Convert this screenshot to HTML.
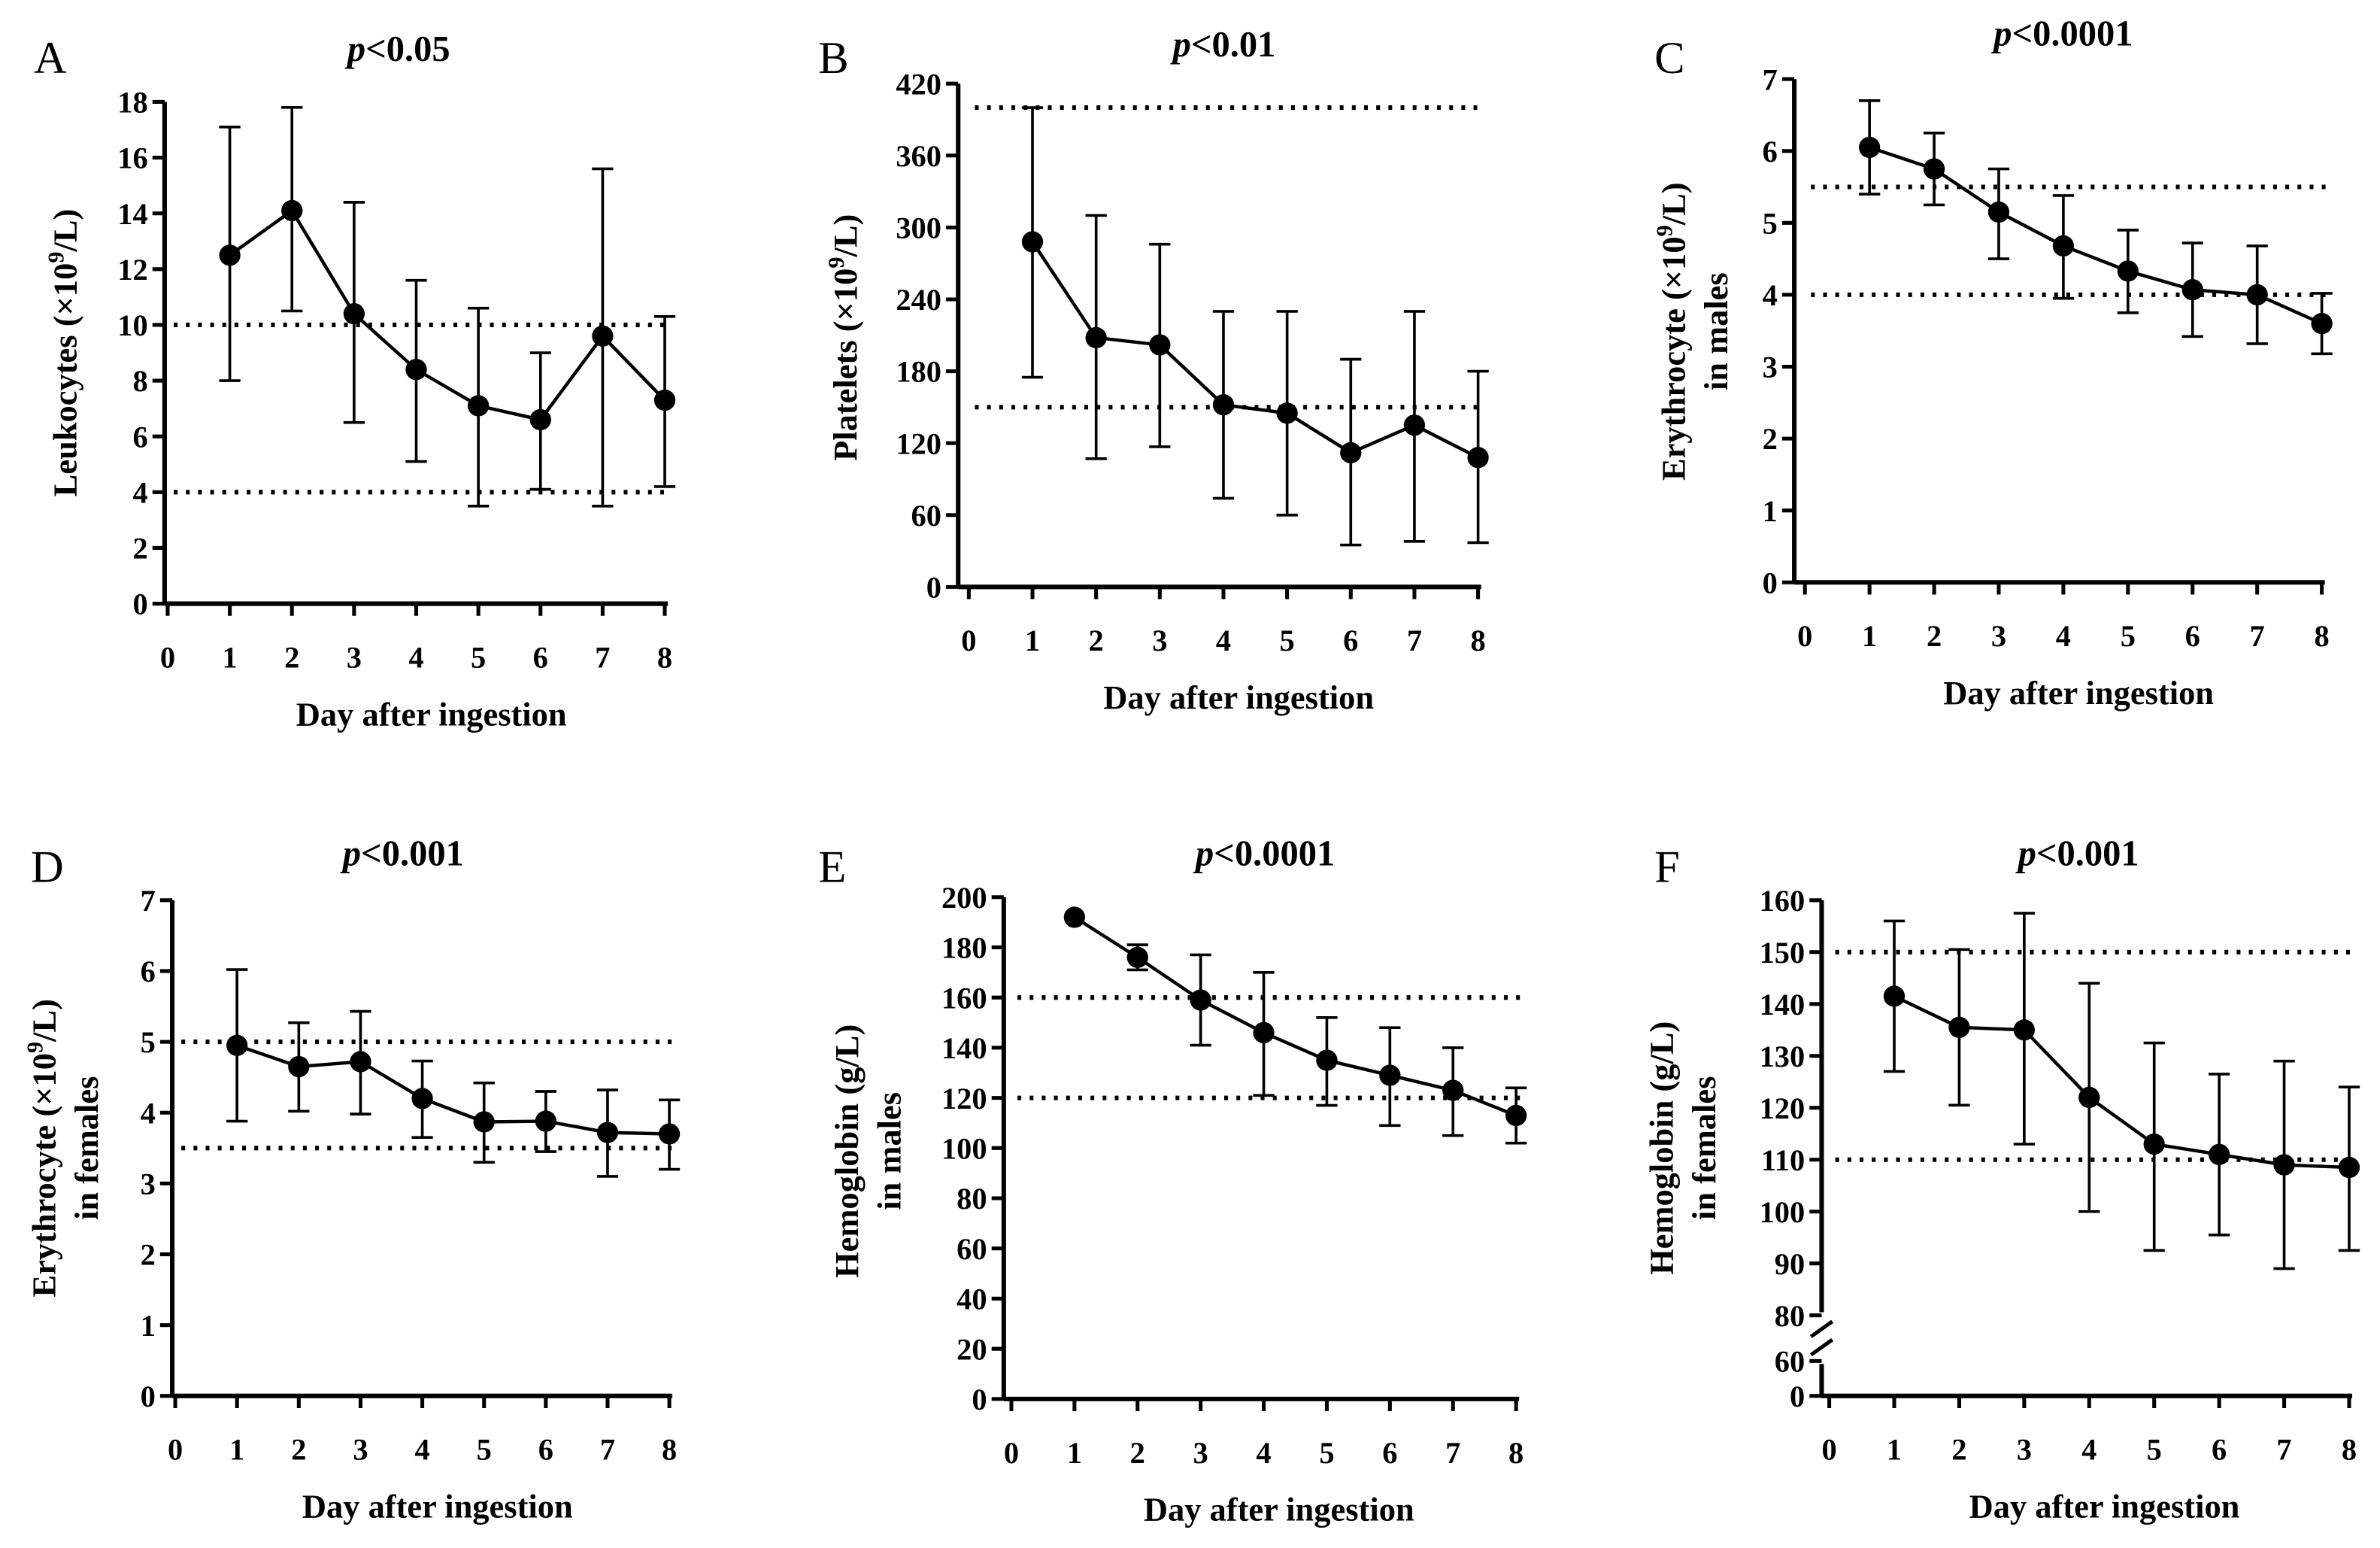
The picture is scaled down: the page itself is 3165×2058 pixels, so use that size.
<!DOCTYPE html>
<html><head><meta charset="utf-8">
<style>
html,body{margin:0;padding:0;background:#fff;}
svg{display:block;}
text{font-family:"Liberation Serif",serif;font-weight:bold;fill:#000;}
text.letter{font-weight:normal;}
</style></head>
<body>
<svg id="fig" width="3165" height="2058" viewBox="0 0 1565 1018" xmlns="http://www.w3.org/2000/svg"></svg>
<script>
// ---- data arrays ----
const days = [1,2,3,4,5,6,7,8];
const xTicks = [0,1,2,3,4,5,6,7,8];

const aMean = [12.5,14.1,10.4,8.4,7.1,6.6,9.6,7.3];
const aLow  = [8.0,10.5,6.5,5.1,3.5,4.1,3.5,4.2];
const aHigh = [17.1,17.8,14.4,11.6,10.6,9.0,15.6,10.3];
const aRef  = [10,4];
const aTicks = [0,2,4,6,8,10,12,14,16,18];

const bMean = [288,208,202,152,145,112,135,108];
const bLow  = [175,107,117,74,60,35,38,37];
const bHigh = [400,310,286,230,230,190,230,180];
const bRef  = [400,150];
const bTicks = [0,60,120,180,240,300,360,420];

const cMean = [6.05,5.75,5.15,4.68,4.33,4.07,4.0,3.6];
const cLow  = [5.4,5.25,4.5,3.95,3.75,3.42,3.32,3.18];
const cHigh = [6.7,6.25,5.75,5.38,4.9,4.72,4.68,4.02];
const cRef  = [5.5,4.0];
const cTicks = [0,1,2,3,4,5,6,7];

const dMean = [4.95,4.65,4.72,4.2,3.87,3.88,3.72,3.7];
const dLow  = [3.88,4.02,3.98,3.65,3.3,3.45,3.1,3.2];
const dHigh = [6.02,5.27,5.43,4.73,4.42,4.3,4.32,4.18];
const dRef  = [5.0,3.5];
const dTicks = [0,1,2,3,4,5,6,7];

const eMean = [192,176,159,146,135,129,123,113];
const eLow  = [192,171,141,121,117,109,105,102];
const eHigh = [192,181,177,170,152,148,140,124];
const eRef  = [160,120];
const eTicks = [0,20,40,60,80,100,120,140,160,180,200];

const fMean = [141.5,135.5,135,122,113,111,109,108.5];
const fLow  = [127,120.5,113,100,92.5,95.5,89,92.5];
const fHigh = [156,150.5,157.5,144,132.5,126.5,129,124];
const fRef  = [150,110];
const fTicks = [0,60,80,90,100,110,120,130,140,150,160];

const NS="http://www.w3.org/2000/svg";
const svg=document.getElementById('fig');
function mk(tag,attrs,parent){const e=document.createElementNS(NS,tag);for(const k in attrs)e.setAttribute(k,attrs[k]);(parent||svg).appendChild(e);return e;}

function panel(p){
  const g=mk('g',{});
  
  
  const X=v=>p.x0+(p.x8-p.x0)*v/8;
  const Y=p.yfn;
  const L=mk('text',{x:p.lx,y:p.ly,'font-size':30,'class':'letter',style:'font-weight:normal'},g);L.textContent=p.id;
  
  
  const T=mk('text',{x:p.tx,y:p.ty,'font-size':24,'text-anchor':'middle'},g);
  T.innerHTML='<tspan font-style="italic">p</tspan>'+p.title;
  
  
  const yTop=Y(p.ymax);
  if(p.broken){
    mk('path',{d:`M${p.ax} ${Y(0)} L${p.ax} ${Y(60)+2}`,stroke:'#000','stroke-width':3,fill:'none'},g);
    mk('path',{d:`M${p.ax} ${Y(80)-2} L${p.ax} ${yTop}`,stroke:'#000','stroke-width':3,fill:'none'},g);
    mk('path',{d:`M${p.ax-7} ${Y(60)-4} L${p.ax+7} ${Y(60)-14} M${p.ax-7} ${Y(80)+14} L${p.ax+7} ${Y(80)+4}`,stroke:'#000','stroke-width':2.5},g);
  } else {
    mk('line',{x1:p.ax,y1:Y(0),x2:p.ax,y2:yTop,stroke:'#000','stroke-width':3},g);
  }
  p.ticks.forEach(t=>{
    mk('line',{x1:p.ax-8,y1:Y(t),x2:p.ax,y2:Y(t),stroke:'#000','stroke-width':2.5},g);
    const tt=mk('text',{x:p.ax-11,y:Y(t)+7,'font-size':20,'text-anchor':'end'},g);tt.textContent=t;
    
    
  });
  mk('line',{x1:p.ax,y1:Y(0),x2:X(8)+2,y2:Y(0),stroke:'#000','stroke-width':3},g);
  xTicks.forEach(t=>{
    mk('line',{x1:X(t),y1:Y(0),x2:X(t),y2:Y(0)+8,stroke:'#000','stroke-width':2.5},g);
    const tt=mk('text',{x:X(t),y:Y(0)+42,'font-size':20,'text-anchor':'middle'},g);tt.textContent=t;
    
    
  });
  const xt=mk('text',{x:(X(0)+X(8))/2+10,y:Y(0)+80,'font-size':22,'text-anchor':'middle'},g);
  xt.textContent='Day after ingestion';
  
  
  p.ylab.forEach((s,i)=>{
    const yt=mk('text',{transform:`translate(${p.ylx+i*28},${p.lyc}) rotate(-90)`,'font-size':22,'text-anchor':'middle'},g);
    yt.innerHTML=s;
    
    
  });
  p.ref.forEach(r=>{
    const rl=mk('line',{x1:X(0)+4,y1:Y(r),x2:X(8)+3,y2:Y(r),stroke:'#000','stroke-width':3,'stroke-dasharray':'2.5 5.5'},g);
    
    
  });
  days.forEach((d,i)=>{
    const x=X(d);
    if(p.high[i]!==p.low[i]){
      const eb=mk('path',{d:`M${x} ${Y(p.low[i])} L${x} ${Y(p.high[i])} M${x-7} ${Y(p.low[i])} L${x+7} ${Y(p.low[i])} M${x-7} ${Y(p.high[i])} L${x+7} ${Y(p.high[i])}`,stroke:'#000','stroke-width':1.8,fill:'none'},g);
      
      
    }
  });
  const ln=mk('polyline',{points:days.map((d,i)=>X(d)+','+Y(p.mean[i])).join(' '),stroke:'#000','stroke-width':2.2,fill:'none'},g);
  
  
  days.forEach((d,i)=>{
    const c=mk('circle',{cx:X(d),cy:Y(p.mean[i]),r:7,fill:'#000'},g);
    
    
  });
}
function lin(v0,y0,v1,y1){return v=>y0+(y1-y0)*(v-v0)/(v1-v0);}
const sup9='<tspan baseline-shift="super" font-size="15">9</tspan>';

panel({id:'A',lx:22,ly:48,tx:262,ty:40,title:'&lt;0.05',ax:108,x0:110,x8:437,yfn:lin(0,397,18,67),ymax:18,ticks:aTicks,
 ylab:['Leukocytes (×10'+sup9+'/L)'],ylx:50,lyc:232,mean:aMean,low:aLow,high:aHigh,ref:aRef});
panel({id:'B',lx:538,ly:48,tx:805,ty:37,title:'&lt;0.01',ax:630,x0:637,x8:972,yfn:lin(0,386,420,55),ymax:420,ticks:bTicks,
 ylab:['Platelets (×10'+sup9+'/L)'],ylx:563,lyc:222,mean:bMean,low:bLow,high:bHigh,ref:bRef});
panel({id:'C',lx:1088,ly:48,tx:1357,ty:30,title:'&lt;0.0001',ax:1180,x0:1187,x8:1527,yfn:lin(0,383,7,52),ymax:7,ticks:cTicks,
 ylab:['Erythrocyte (×10'+sup9+'/L)','in males'],ylx:1108,lyc:218,mean:cMean,low:cLow,high:cHigh,ref:cRef});
panel({id:'D',lx:20,ly:580,tx:265,ty:569,title:'&lt;0.001',ax:113,x0:115,x8:440,yfn:lin(0,918,7,592),ymax:7,ticks:dTicks,
 ylab:['Erythrocyte (×10'+sup9+'/L)','in females'],ylx:36,lyc:755,mean:dMean,low:dLow,high:dHigh,ref:dRef});
panel({id:'E',lx:538,ly:580,tx:832,ty:569,title:'&lt;0.0001',ax:660,x0:665,x8:997,yfn:lin(0,920,200,590),ymax:200,ticks:eTicks,
 ylab:['Hemoglobin (g/L)','in males'],ylx:564,lyc:757,mean:eMean,low:eLow,high:eHigh,ref:eRef});
const fUp=lin(80,865,160,592), fLo=lin(0,918,60,895);
panel({id:'F',lx:1088,ly:580,tx:1367,ty:569,title:'&lt;0.001',ax:1198,x0:1203,x8:1545,yfn:v=>v<=60?fLo(v):(v>=80?fUp(v):fLo(60)+(fUp(80)-fLo(60))*(v-60)/20),ymax:160,ticks:fTicks,broken:true,
 ylab:['Hemoglobin (g/L)','in females'],ylx:1100,lyc:755,mean:fMean,low:fLow,high:fHigh,ref:fRef});
</script>
</body></html>
